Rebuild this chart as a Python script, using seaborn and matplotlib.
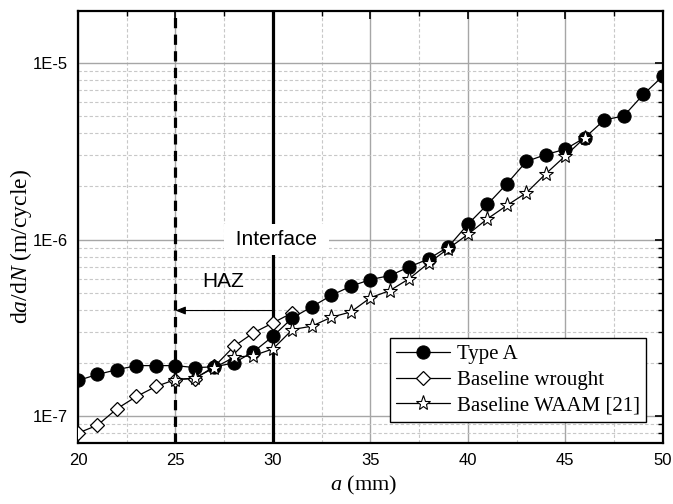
import numpy as np
import pandas as pd
import matplotlib
matplotlib.use("Agg")
import matplotlib.pyplot as plt
from matplotlib.ticker import LogLocator, FixedLocator, MultipleLocator, NullFormatter
import seaborn as sns

# ---- data ----
a_typeA = [20, 21, 22, 23, 24, 25, 26, 27, 28, 29, 30, 31, 32, 33, 34, 35,
           36, 37, 38, 39, 40, 41, 42, 43, 44, 45, 46, 47, 48, 49, 50]
dadn_typeA = [1.59e-7, 1.72e-7, 1.83e-7, 1.93e-7, 1.93e-7, 1.93e-7, 1.88e-7, 1.90e-7,
              2.00e-7, 2.31e-7, 2.83e-7, 3.60e-7, 4.16e-7, 4.83e-7, 5.44e-7, 5.93e-7,
              6.25e-7, 7.00e-7, 7.78e-7, 9.10e-7, 1.22e-6, 1.58e-6, 2.07e-6, 2.77e-6,
              3.03e-6, 3.25e-6, 3.78e-6, 4.76e-6, 5.02e-6, 6.64e-6, 8.43e-6]

a_wrought = [20, 21, 22, 23, 24, 25, 26, 27, 28, 29, 30, 31]
dadn_wrought = [8.0e-8, 8.87e-8, 1.10e-7, 1.29e-7, 1.47e-7, 1.61e-7, 1.63e-7, 1.91e-7,
                2.48e-7, 2.96e-7, 3.37e-7, 3.85e-7]

a_waam = [25, 26, 27, 28, 29, 30, 31, 32, 33, 34, 35, 36, 37, 38, 39, 40, 41, 42,
          43, 44, 45, 46]
dadn_waam = [1.61e-7, 1.64e-7, 1.88e-7, 2.15e-7, 2.20e-7, 2.40e-7, 3.09e-7, 3.23e-7,
             3.63e-7, 3.89e-7, 4.68e-7, 5.14e-7, 6.01e-7, 7.38e-7, 8.89e-7, 1.07e-6,
             1.31e-6, 1.56e-6, 1.84e-6, 2.36e-6, 2.98e-6, 3.78e-6]

series_labels = ["Type A", "Baseline wrought", "Baseline WAAM [21]"]
y_ticks = [1e-7, 1e-6, 1e-5]
y_ticklabels = ["1E-7", "1E-6", "1E-5"]
x_ticks = [20, 25, 30, 35, 40, 45, 50]
haz_x = 25
interface_x = 30

# ---- style ----
sns.set_theme(style="white")
plt.rcParams["font.family"] = ["Liberation Sans", "DejaVu Sans"]
plt.rcParams["mathtext.fontset"] = "custom"
plt.rcParams["mathtext.rm"] = "Liberation Serif"
plt.rcParams["mathtext.it"] = "Liberation Serif:italic"
plt.rcParams["text.color"] = "black"
plt.rcParams["xtick.color"] = "black"
plt.rcParams["ytick.color"] = "black"
plt.rcParams["xtick.labelcolor"] = "black"
plt.rcParams["ytick.labelcolor"] = "black"
plt.rcParams["axes.labelcolor"] = "black"

fig = plt.figure(figsize=(6.73, 5.04), dpi=100)
ax = fig.add_axes([0.1159, 0.121, 0.869, 0.857])

grid_major = "#a6a6a6"
grid_minor = "#c8c8c8"

ax.set_yscale("log")
ax.set_xlim(20, 50)
ax.set_ylim(7.03e-8, 1.97e-5)

ax.grid(which="major", color=grid_major, lw=1.0, ls="-", zorder=0)
ax.grid(which="minor", color=grid_minor, lw=0.8, ls=(0, (3, 2)), zorder=0)

df_a = pd.DataFrame({"a": a_typeA, "v": dadn_typeA})
df_w = pd.DataFrame({"a": a_wrought, "v": dadn_wrought})
df_m = pd.DataFrame({"a": a_waam, "v": dadn_waam})

sns.lineplot(data=df_a, x="a", y="v", ax=ax, color="black", lw=0.9, marker="o",
             markersize=9.5, markerfacecolor="black", markeredgecolor="black",
             label=series_labels[0], zorder=5)
sns.lineplot(data=df_w, x="a", y="v", ax=ax, color="black", lw=0.9, marker="D",
             markersize=7.5, markerfacecolor="white", markeredgecolor="black",
             markeredgewidth=0.9, label=series_labels[1], zorder=4)
sns.lineplot(data=df_m, x="a", y="v", ax=ax, color="black", lw=0.9, marker="*",
             markersize=11, markerfacecolor="white", markeredgecolor="black",
             markeredgewidth=0.8, label=series_labels[2], zorder=6)

# vertical lines
ax.axvline(haz_x, color="black", lw=2.3, ls=(0, (3.2, 2.0)), zorder=3)
ax.axvline(interface_x, color="black", lw=2.3, ls="-", zorder=3)

ax.text(30.2, 1.0e-6, " Interface ", ha="center", va="center", fontsize=15,
        zorder=7, bbox=dict(boxstyle="square,pad=0.3", fc="white", ec="none"))
ax.text(27.46, 5.78e-7, "HAZ", ha="center", va="center", fontsize=15, zorder=7)
ax.annotate("", xy=(haz_x, 3.96e-7), xytext=(interface_x, 3.96e-7),
            arrowprops=dict(arrowstyle="-|>,head_length=0.5,head_width=0.2",
                            color="black", lw=0.8, shrinkA=0, shrinkB=0), zorder=7)

# ticks
ax.xaxis.set_major_locator(FixedLocator(x_ticks))
ax.xaxis.set_minor_locator(MultipleLocator(2.5))
ax.yaxis.set_major_locator(FixedLocator(y_ticks))
ax.set_yticklabels(y_ticklabels)
ax.yaxis.set_minor_locator(LogLocator(base=10, subs=np.arange(2, 10), numticks=20))
ax.yaxis.set_minor_formatter(NullFormatter())
ax.tick_params(which="both", direction="in", top=True, right=True, labelsize=12,
               color="black", labelcolor="black")
ax.tick_params(which="major", length=6, width=1.2, pad=7)
ax.tick_params(which="minor", length=3.5, width=1.0)

for s in ax.spines.values():
    s.set_color("black")
    s.set_linewidth(1.6)
    s.set_visible(True)

ax.set_xlabel(r"$\it{a}$ (mm)", fontsize=16, family="Liberation Serif", color="black")
ax.xaxis.set_label_coords(0.489, -0.072)
ax.set_ylabel(r"d$\it{a}$/d$\it{N}$ (m/cycle)", fontsize=17,
              family="Liberation Serif", color="black")
ax.yaxis.set_label_coords(-0.076, 0.455)

leg = ax.legend(loc="lower right", bbox_to_anchor=(0.971, 0.0486), fancybox=False,
                frameon=True, edgecolor="black", framealpha=1,
                prop={"family": "Liberation Serif", "size": 15},
                handlelength=2.6, borderpad=0.3, labelspacing=0.3,
                handletextpad=0.3, borderaxespad=0)
leg.get_frame().set_linewidth(1.0)
leg.set_zorder(10)
for t in leg.get_texts():
    t.set_color("black")

fig.savefig("out.png", dpi=100)
